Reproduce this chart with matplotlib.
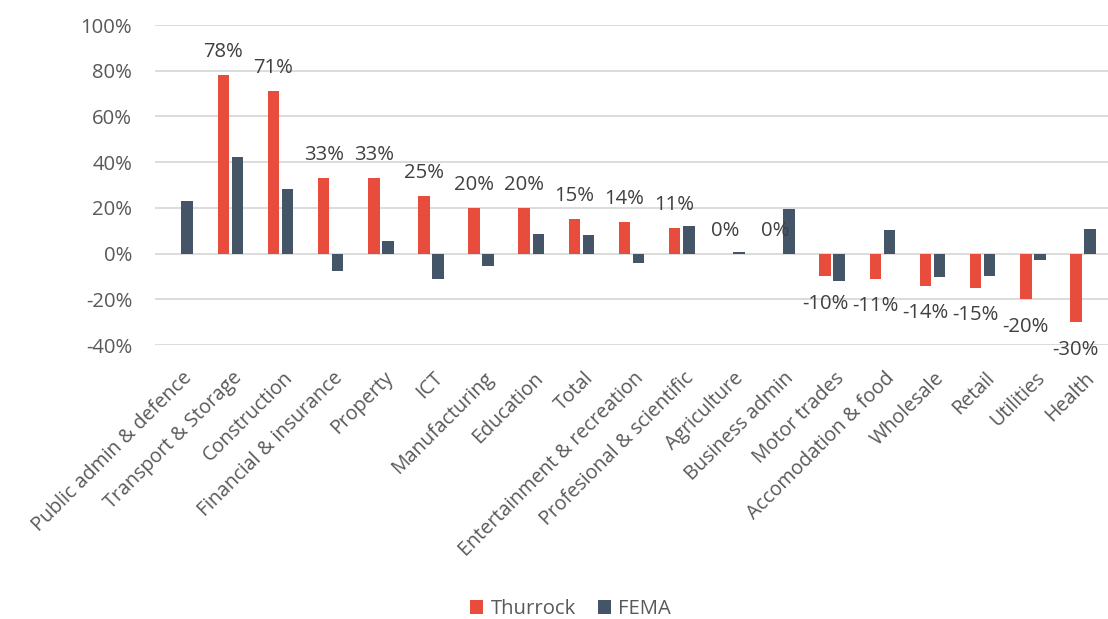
import numpy as np
import matplotlib
matplotlib.use("Agg")
import matplotlib.pyplot as plt
from matplotlib.transforms import ScaledTranslation

categories = ["Public admin & defence", "Transport & Storage", "Construction",
              "Financial & insurance", "Property", "ICT", "Manufacturing",
              "Education", "Total", "Entertainment & recreation",
              "Profesional & scientific", "Agriculture", "Business admin",
              "Motor trades", "Accomodation & food", "Wholesale", "Retail",
              "Utilities", "Health"]
thurrock = [np.nan, 78, 71, 33, 33, 25, 20, 20, 15, 14, 11, 0, 0,
            -10, -11, -14, -15, -20, -30]
fema = [23.2, 42.4, 28.2, -7.6, 5.5, -11.3, -5.4, 8.7, 8.0, -3.9, 12.2,
        0.8, 19.6, -12.2, 10.5, -10.3, -9.6, -2.6, 10.7]
yticks = [-40, -20, 0, 20, 40, 60, 80, 100]

red = "#E84C3D"
slate = "#435566"
txt = "#595959"

plt.rcParams["font.family"] = ["Open Sans", "DejaVu Sans"]

fig = plt.figure(figsize=(11.08, 6.19), dpi=100)
ax = fig.add_axes([0.14, 0.4426, 0.86, 0.517])

x = np.arange(len(categories))
w = 0.23
off = 0.14
ax.bar(x - off, thurrock, w, color=red, label="Thurrock", zorder=3)
ax.bar(x + off, fema, w, color=slate, label="FEMA", zorder=3)

# data labels on Thurrock bars
for xi, v in zip(x, thurrock):
    if np.isnan(v):
        continue
    if v >= 0:
        ax.annotate(f"{v:.0f}%", (xi - off, v), xytext=(0, 13),
                    textcoords="offset points", ha="center", va="baseline",
                    fontsize=14.6, color="#404040")
    else:
        ax.annotate(f"{v:.0f}%", (xi - off, v), xytext=(0, -12.5),
                    textcoords="offset points", ha="center", va="top",
                    fontsize=14.6, color="#404040")

ax.set_xlim(-0.5, len(categories) - 0.5)
ax.set_ylim(-40, 100)
ax.set_yticks(yticks)
ax.set_yticklabels([f"{t}%" for t in yticks], fontsize=14.6, color=txt)
ax.yaxis.grid(True, color="#D9D9D9", linewidth=1.3, zorder=0)
ax.tick_params(axis="both", length=0)
ax.tick_params(axis="y", pad=16.5)
ax.tick_params(axis="x", pad=0)
for s in ax.spines.values():
    s.set_visible(False)

ax.set_xticks(x)
ax.set_xticklabels(categories, rotation=45, ha="right", va="top",
                   rotation_mode="anchor", fontsize=14.2, color=txt)
shift = ScaledTranslation(2 / 100, -23 / 100, fig.dpi_scale_trans)
for lab in ax.get_xticklabels():
    lab.set_transform(lab.get_transform() + shift)

fig.legend(loc="center", bbox_to_anchor=(0.515, 0.016), ncol=2, frameon=False,
           fontsize=14.6, labelcolor=txt, handlelength=0.65, handleheight=0.65,
           handletextpad=0.35, columnspacing=1.1)

fig.savefig("out.png", dpi=100)
